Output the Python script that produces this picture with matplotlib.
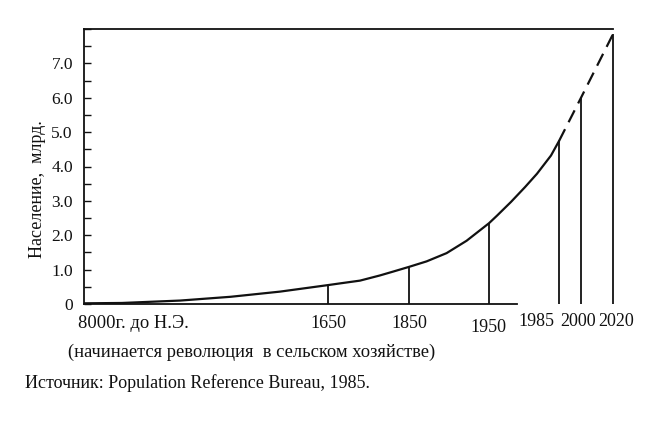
import numpy as np
import matplotlib
matplotlib.use("Agg")
import matplotlib.pyplot as plt
from matplotlib.ticker import MultipleLocator, FixedFormatter, FixedLocator

plt.rcParams['font.family'] = ['Liberation Serif', 'DejaVu Serif']

# Данные (население, млрд.)
curve_years = [-8000, -6500, -4200, -2200, -250, 1650, 1680, 1729, 1778, 1810, 1850,
               1872, 1897, 1922, 1950, 1954, 1961, 1968, 1974, 1981, 1985]
curve_values = [0.02, 0.03, 0.10, 0.21, 0.36, 0.55, 0.60, 0.68, 0.83, 0.94, 1.08,
                1.24, 1.48, 1.84, 2.35, 2.57, 2.97, 3.40, 3.79, 4.32, 4.74]
forecast_years = [1985, 2000, 2020]
forecast_values = [4.74, 6.00, 7.85]
marked_years = [1650, 1850, 1950, 1985, 2000, 2020]
marked_values = [0.55, 1.08, 2.35, 4.74, 6.00, 7.85]
tick_labels = ["1650", "1850", "1950", "1985", "2000", "2020"]
start_label = "8000г. до Н.Э."
start_note = "(начинается революция  в сельском хозяйстве)"
y_labels = ["0", "1.0", "2.0", "3.0", "4.0", "5.0", "6.0", "7.0"]

# Нелинейная шкала по оси X (годы -> условная позиция)
anchor_years = np.array([-8000, 1650, 1850, 1950, 1985, 2000, 2020], dtype=float)
anchor_pos = np.array([0, 244, 325, 405, 475, 497, 529], dtype=float)


def forward(x):
    return np.interp(x, anchor_years, anchor_pos)


def inverse(p):
    return np.interp(p, anchor_pos, anchor_years)


fig = plt.figure(figsize=(6.66, 4.21), dpi=100)
ax = fig.add_axes([84 / 666, 1 - 304 / 421, 529 / 666, 275 / 421])
ax.set_xscale('function', functions=(forward, inverse))
ax.set_xlim(-8000, 2020)
ax.set_ylim(0, 8)

ink = "#111111"

# Кривая роста и прогноз
ax.plot(curve_years, curve_values, color=ink, lw=1.6, solid_capstyle='round',
        solid_joinstyle='round')
ax.plot(forecast_years, forecast_values, color=ink, lw=1.6, dashes=(6, 3.5))

# Вертикальные линии
ax.vlines(marked_years, 0, marked_values, color=ink, lw=1.3, clip_on=False)

# Оси
ax.spines["right"].set_visible(False)
for side in ["left", "top", "bottom"]:
    ax.spines[side].set_linewidth(1.3)
    ax.spines[side].set_color(ink)
ax.spines["bottom"].set_bounds(-8000, 1964)

ax.yaxis.set_major_locator(FixedLocator(range(len(y_labels))))
ax.yaxis.set_major_formatter(FixedFormatter(y_labels))
ax.yaxis.set_minor_locator(MultipleLocator(0.5))
ax.tick_params(axis='y', which='both', direction='in', length=5, width=1, color=ink,
               labelsize=12.5, pad=8, labelcolor=ink)
ax.set_xticks([])

# Подписи оси X
offsets = [(0, -20), (0, -20), (-1, -23), (-23, -18), (-3, -18), (3, -18)]
for year, label, (dx, dy) in zip(marked_years, tick_labels, offsets):
    ax.annotate(label, xy=(year, 0), xycoords=('data', 'axes fraction'),
                xytext=(dx, dy), textcoords='offset pixels',
                ha='center', va='center', fontsize=13, color=ink)
ax.annotate(start_label, xy=(-8000, 0), xycoords=('data', 'axes fraction'),
            xytext=(-6, -20), textcoords='offset pixels',
            ha='left', va='center', fontsize=13.3, color=ink)
ax.annotate(start_note, xy=(-8000, 0), xycoords=('data', 'axes fraction'),
            xytext=(-16, -48), textcoords='offset pixels',
            ha='left', va='center', fontsize=13.3, color=ink)

fig.text(37 / 666, 1 - 189 / 421, "Население,  млрд.", rotation=90,
         ha='center', va='center', fontsize=13, color=ink)
fig.text(25 / 666, 1 - 383 / 421, "Источник: Population Reference Bureau, 1985.",
         ha='left', va='center', fontsize=13, color=ink)

fig.savefig("out.png", dpi=100, facecolor="white")
